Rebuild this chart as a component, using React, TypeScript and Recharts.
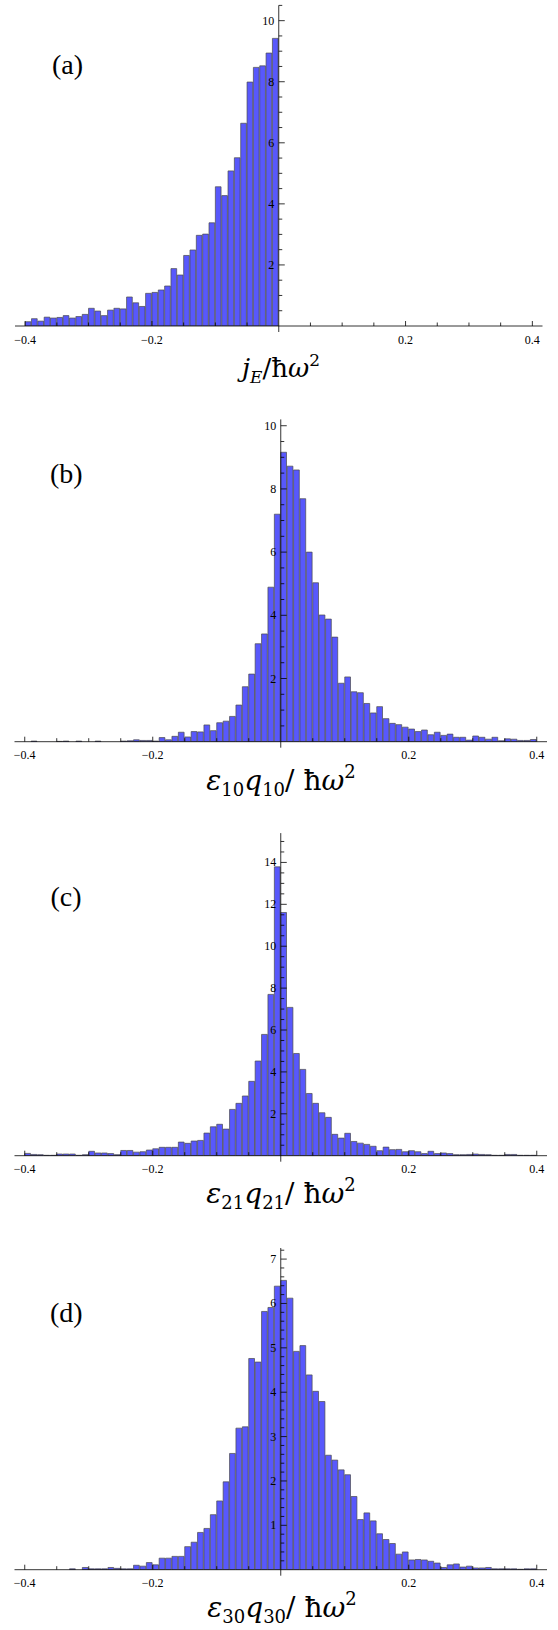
import React from 'react'
import { BarChart, Bar, XAxis, YAxis, ReferenceLine } from 'recharts'

// histogram bins of width 0.01 between -0.4 and 0.4
const BIN_START = -0.4
const BIN_WIDTH = 0.01
const binCenters = Array.from({ length: 80 }, (_, i) => +(BIN_START + (i + 0.5) * BIN_WIDTH).toFixed(3))

// (a) j_E / hbar w^2, only the negative bins hold counts
const jE = [
  0.14, 0.24, 0.16, 0.29, 0.26, 0.28, 0.34, 0.26, 0.31, 0.38,
  0.58, 0.49, 0.34, 0.52, 0.58, 0.56, 0.95, 0.76, 0.64, 1.07,
  1.1, 1.18, 1.31, 1.88, 1.67, 2.31, 2.49, 2.97, 3.01, 3.38,
  4.56, 4.27, 5.08, 5.51, 6.64, 7.99, 8.47, 8.52, 8.94, 9.42,
]

// (b) eps10 q10
const eps10 = [
  0, 0.02, 0, 0, 0, 0.01, 0.02, 0, 0.02, 0,
  0, 0.02, 0, 0, 0, 0.02, 0.03, 0.06, 0.04, 0.04,
  0.02, 0.13, 0.06, 0.17, 0.3, 0.15, 0.32, 0.31, 0.53, 0.35,
  0.6, 0.65, 0.8, 1.16, 1.74, 2.14, 3.1, 3.41, 4.89, 7.2,
  9.16, 8.72, 8.6, 7.69, 6.0, 5.03, 4.01, 3.88, 3.31, 1.85,
  2.05, 1.58, 1.55, 1.21, 0.91, 1.11, 0.73, 0.58, 0.54, 0.46,
  0.4, 0.32, 0.37, 0.22, 0.3, 0.2, 0.24, 0.14, 0.14, 0.05,
  0.18, 0.14, 0.08, 0.14, 0.03, 0.09, 0.08, 0.04, 0.04, 0.07,
]

// (c) eps21 q21
const eps21 = [
  0.11, 0.06, 0.05, 0.02, 0.02, 0.08, 0.08, 0.08, 0.02, 0.05,
  0.21, 0.13, 0.13, 0.1, 0.05, 0.25, 0.25, 0.17, 0.19, 0.27,
  0.33, 0.4, 0.4, 0.4, 0.65, 0.59, 0.7, 0.73, 1.08, 1.38,
  1.5, 1.27, 2.21, 2.5, 2.85, 3.55, 4.52, 5.79, 7.7, 13.79,
  11.61, 7.08, 4.88, 4.12, 2.97, 2.5, 2.05, 1.83, 1.02, 0.84,
  1.07, 0.68, 0.6, 0.54, 0.45, 0.24, 0.41, 0.29, 0.3, 0.19,
  0.24, 0.19, 0.1, 0.21, 0.1, 0.13, 0.1, 0.05, 0.05, 0.06,
  0.08, 0.06, 0.05, 0.02, 0.02, 0.06, 0.06, 0.02, 0.02, 0.02,
]

// (d) eps30 q30
const eps30 = [
  0, 0, 0, 0, 0, 0, 0, 0.02, 0, 0.05,
  0.02, 0.02, 0.02, 0.05, 0.03, 0.02, 0.02, 0.1, 0.08, 0.16,
  0.11, 0.26, 0.26, 0.3, 0.3, 0.52, 0.62, 0.84, 0.93, 1.24,
  1.55, 1.98, 2.62, 3.19, 3.22, 4.76, 4.68, 5.82, 5.91, 6.39,
  6.52, 6.12, 4.92, 5.05, 4.39, 4.02, 3.79, 2.58, 2.47, 2.25,
  2.14, 1.65, 1.13, 1.28, 1.1, 0.81, 0.68, 0.59, 0.35, 0.4,
  0.22, 0.23, 0.22, 0.19, 0.15, 0.05, 0.11, 0.13, 0.06, 0.08,
  0.04, 0.04, 0.05, 0.02, 0.02, 0.02, 0.02, 0.01, 0.02, 0.02,
]

const xTicks = [-0.4, -0.35, -0.3, -0.25, -0.2, -0.15, -0.1, -0.05, 0.05, 0.1, 0.15, 0.2, 0.25, 0.3, 0.35, 0.4]
const xLabels = [-0.4, -0.2, 0.2, 0.4]
const X_DOMAIN: [number, number] = [-0.416, 0.416]

const majorAB = [2, 4, 6, 8, 10]
const majorC = [2, 4, 6, 8, 10, 12, 14]
const majorD = [1, 2, 3, 4, 5, 6, 7]

const W = 558
const X_AXIS_H = 24
const Y_AXIS_W = 1
const FILL = '#5858fc'
const EDGE = '#4a4a4a'
const SERIF = '"Liberation Serif", "Times New Roman", serif'
const MATH = '"DejaVu Serif", serif'

const minorTicks = (step: number, max: number) =>
  Array.from({ length: Math.floor(max / step + 1e-6) }, (_, i) => +((i + 1) * step).toFixed(2))

const fmt = (v: number) => (v < 0 ? '\u2212' : '') + Math.abs(v).toString()

function XTick(props: any) {
  const { x, y, payload } = props
  const labeled = xLabels.includes(payload.value)
  return (
    <g>
      <line x1={x} x2={x} y1={y} y2={y - (labeled ? 5 : 3.5)} stroke="#000" strokeWidth={0.8} />
      {labeled && (
        <text x={x} y={y + 17.5} textAnchor="middle" fontSize={12} fontFamily={SERIF} fill="#000">
          {fmt(payload.value)}
        </text>
      )}
    </g>
  )
}

function YTick(props: any) {
  const { y, payload, axisX, major } = props
  const isMajor = major.includes(payload.value)
  return (
    <g>
      <line x1={axisX} x2={axisX + (isMajor ? 6 : 3.5)} y1={y} y2={y} stroke="#000" strokeWidth={0.8} />
      {isMajor && (
        <text x={axisX - 4.5} y={y + 4} textAnchor="end" fontSize={12} fontFamily={SERIF} fill="#000">
          {payload.value}
        </text>
      )}
    </g>
  )
}

interface PanelProps {
  values: number[]
  chartTop: number
  height: number
  plotTop: number
  baseline: number
  left: number
  right: number
  yMax: number
  major: number[]
  minorStep: number
}

function Panel({ values, chartTop, height, plotTop, baseline, left, right, yMax, major, minorStep }: PanelProps) {
  const data = binCenters.map((x, i) => ({ x, v: values[i] ?? 0 }))
  const plotW = right - left
  const axisX = left + (plotW * (0 - X_DOMAIN[0])) / (X_DOMAIN[1] - X_DOMAIN[0])
  const barSize = (plotW * BIN_WIDTH) / (X_DOMAIN[1] - X_DOMAIN[0])
  // the vertical axis pokes ~6px below the horizontal one
  const below = (6 * yMax) / (baseline - plotTop)
  return (
    <div style={{ position: 'absolute', left: 0, top: chartTop }}>
      <BarChart
        width={W}
        height={height}
        data={data}
        margin={{
          top: plotTop - chartTop,
          left: left - Y_AXIS_W,
          right: W - right,
          bottom: chartTop + height - baseline - X_AXIS_H,
        }}
      >
        <XAxis
          dataKey="x"
          type="number"
          domain={X_DOMAIN}
          ticks={xTicks}
          interval={0}
          height={X_AXIS_H}
          tickSize={0}
          tickMargin={0}
          tickLine={false}
          axisLine={{ stroke: '#000', strokeWidth: 0.8 }}
          tick={<XTick />}
          allowDataOverflow
        />
        <YAxis
          type="number"
          domain={[0, yMax]}
          ticks={minorTicks(minorStep, yMax)}
          interval={0}
          width={Y_AXIS_W}
          tickSize={0}
          tickMargin={0}
          tickLine={false}
          axisLine={false}
          tick={<YTick axisX={axisX} major={major} />}
          allowDataOverflow
        />
        <Bar dataKey="v" fill={FILL} stroke={EDGE} strokeWidth={0.7} barSize={barSize} isAnimationActive={false} />
        <ReferenceLine
          segment={[{ x: 0, y: -below }, { x: 0, y: yMax }]}
          ifOverflow="visible"
          stroke="#000"
          strokeWidth={0.8}
        />
      </BarChart>
    </div>
  )
}

function Title({ x, y, sym, sub }: { x: number; y: number; sym: string; sub: string }) {
  return (
    <text x={x} y={y}>
      <tspan fontStyle="italic">{sym}</tspan>
      <tspan fontSize={18} dy={6}>{sub}</tspan>
      <tspan fontStyle="italic" dy={-6}>q</tspan>
      <tspan fontSize={18} dy={6}>{sub}</tspan>
      <tspan dy={-6}>/ ħ</tspan>
      <tspan fontStyle="italic">ω</tspan>
      <tspan fontSize={18} dy={-12}>2</tspan>
    </text>
  )
}

export default function App() {
  return (
    <div style={{ position: 'absolute', left: 0, top: 0, width: W, height: 1630, background: '#fff' }}>
      <Panel values={jE} chartTop={0} height={400} plotTop={5.4} baseline={326} left={15} right={542.5}
        yMax={10.5} major={majorAB} minorStep={0.5} />
      <Panel values={eps10} chartTop={410} height={400} plotTop={419.4} baseline={741.7} left={14.5} right={547}
        yMax={10.2} major={majorAB} minorStep={0.5} />
      <Panel values={eps21} chartTop={825} height={400} plotTop={833.1} baseline={1155.7} left={14.5} right={547}
        yMax={15.4} major={majorC} minorStep={0.5} />
      <Panel values={eps30} chartTop={1240} height={390} plotTop={1248} baseline={1569.7} left={14.5} right={547}
        yMax={7.25} major={majorD} minorStep={0.2} />
      <svg width={W} height={1630} style={{ position: 'absolute', left: 0, top: 0, pointerEvents: 'none' }}>
        <g fontFamily={SERIF} fontSize={28} fill="#000">
          <text x={52} y={74}>(a)</text>
          <text x={50} y={483}>(b)</text>
          <text x={50.5} y={906}>(c)</text>
          <text x={50} y={1322}>(d)</text>
        </g>
        <g fontFamily={MATH} fontSize={26} fill="#000" textAnchor="middle">
          <text x={281} y={377}>
            <tspan fontStyle="italic">j</tspan>
            <tspan fontStyle="italic" fontSize={17} dy={6}>E</tspan>
            <tspan dy={-6}>/ħ</tspan>
            <tspan fontStyle="italic">ω</tspan>
            <tspan fontSize={17} dy={-11}>2</tspan>
          </text>
        </g>
        <g fontFamily={MATH} fontSize={28} fill="#000" textAnchor="middle">
          <Title x={281} y={790} sym="ε" sub="10" />
          <Title x={281} y={1203} sym="ε" sub="21" />
          <Title x={282} y={1617} sym="ε" sub="30" />
        </g>
      </svg>
    </div>
  )
}
